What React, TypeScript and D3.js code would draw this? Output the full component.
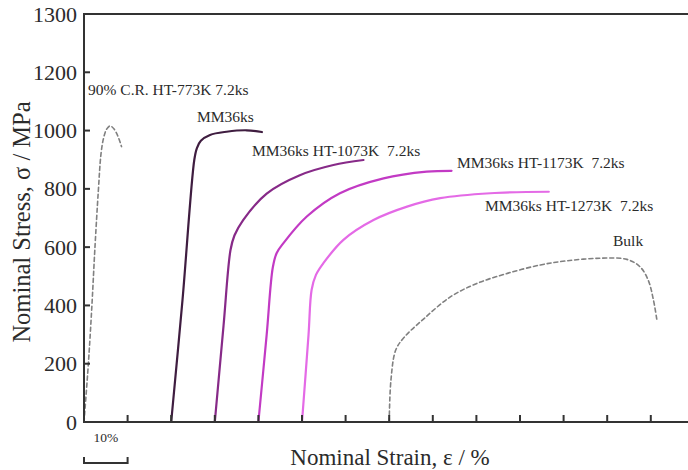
import React from "react";
import * as d3 from "d3";

const cr90Strain = [0, 1.0, 1.8, 2.5, 3.3, 3.9, 4.5, 5.2, 6.0, 6.9, 7.8, 8.6];
const cr90Stress = [0, 200, 396, 596, 796, 920, 975, 1005, 1016, 1005, 980, 945];

const mm36Strain = [20, 22.6, 25.3, 25.9, 26.8, 28.9, 32.7, 37.3, 40.8];
const mm36Stress = [0, 420, 900, 940, 965, 985, 996, 1001, 995];

const ht1073Strain = [30, 32.0, 33.6, 34.5, 36.5, 41.9, 49.5, 57.2, 64.1];
const ht1073Stress = [0, 330, 590, 640, 693, 784, 847, 882, 899];

const ht1173Strain = [40, 41.9, 43.3, 44.2, 45.7, 51.1, 58.7, 68.7, 78.6, 84.3];
const ht1173Stress = [0, 300, 530, 580, 613, 705, 785, 836, 859, 862];

const ht1273Strain = [50, 51.5, 52.2, 53.2, 54.9, 59.5, 66.4, 74.1, 81.7, 93.2, 106.6];
const ht1273Stress = [0, 300, 453, 505, 545, 625, 693, 739, 768, 785, 790];

const bulkStrain = [70, 70.4, 71.5, 73.4, 78, 84.1, 90.2, 97.1, 104.7, 110.7, 118.3, 124.5, 127.5, 129.4, 130.6, 131.4];
const bulkStress = [0, 144, 247, 290, 355, 430, 476, 510, 539, 553, 562, 558, 533, 487, 419, 350];

const seriesLabels = [
  "90% C.R. HT-773K 7.2ks",
  "MM36ks",
  "MM36ks HT-1073K  7.2ks",
  "MM36ks HT-1173K  7.2ks",
  "MM36ks HT-1273K  7.2ks",
  "Bulk",
];

const yTickValues = [0, 200, 400, 600, 800, 1000, 1200, 1400];
const yTickLabels = ["0", "200", "400", "600", "800", "1000", "1200", "1300"];
const xTickValues = [10, 20, 30, 40, 50, 60, 70, 80, 90, 100, 110, 120, 130];

const W = 688;
const H = 470;
const FONT = "'Liberation Serif', 'Times New Roman', serif";
const TXT = "#2b2b2b";

export default function App() {
  const x = d3.scaleLinear().domain([0, 140]).range([84, 84 + 140 * 4.36]);
  const y = d3.scaleLinear().domain([0, 1400]).range([422, 14]);
  const line = d3
    .line<[number, number]>()
    .x((d) => x(d[0]))
    .y((d) => y(d[1]))
    .curve(d3.curveCatmullRom.alpha(0.5));

  const zip = (a: number[], b: number[]) => a.map((v, i) => [v, b[i]] as [number, number]);

  const series = [
    { pts: zip(cr90Strain, cr90Stress), color: "#808080", dash: "4,3", w: 1.6 },
    { pts: zip(mm36Strain, mm36Stress), color: "#3f1d40", dash: null, w: 2.2 },
    { pts: zip(ht1073Strain, ht1073Stress), color: "#872a88", dash: null, w: 2.2 },
    { pts: zip(ht1173Strain, ht1173Stress), color: "#c23ac4", dash: null, w: 2.2 },
    { pts: zip(ht1273Strain, ht1273Stress), color: "#e46ae6", dash: null, w: 2.2 },
    { pts: zip(bulkStrain, bulkStress), color: "#808080", dash: "4,3", w: 1.6 },
  ];

  // label anchors (left x in px, baseline y in px)
  const labelPos: [number, number][] = [
    [88, 95],
    [197, 122],
    [252, 156],
    [457, 168],
    [485, 211],
    [613, 246],
  ];

  const x0 = x(0);
  const yBase = y(0);
  const xRight = W;

  return (
    <svg
      width={W}
      height={H}
      style={{ position: "absolute", left: 0, top: 0, background: "#fff" }}
      fontFamily={FONT}
    >
      <rect width={W} height={H} fill="#fff" />
      {series.map((s, i) => (
        <path
          key={i}
          d={line(s.pts) || ""}
          fill="none"
          stroke={s.color}
          strokeWidth={s.w}
          strokeDasharray={s.dash || undefined}
          strokeLinecap="round"
        />
      ))}
      {/* axes */}
      <line x1={x0} y1={y(1400)} x2={x0} y2={yBase} stroke="#333" strokeWidth={2} />
      <line x1={x0 - 1} y1={yBase} x2={xRight} y2={yBase} stroke="#333" strokeWidth={2} />
      <line x1={x0 - 1} y1={y(1400)} x2={xRight} y2={y(1400)} stroke="#333" strokeWidth={2} />
      {xTickValues.map((v) => (
        <line key={v} x1={x(v)} x2={x(v)} y1={yBase} y2={yBase - 7} stroke="#333" strokeWidth={2} />
      ))}
      {yTickValues.map((v, i) => (
        <g key={v}>
          <line x1={x0} x2={x0 + 6} y1={y(v)} y2={y(v)} stroke="#333" strokeWidth={2} />
          <text
            x={x0 - 7}
            y={y(v)}
            textAnchor="end"
            dominantBaseline="central"
            fontSize={22}
            fill={TXT}
          >
            {yTickLabels[i]}
          </text>
        </g>
      ))}
      {/* series labels */}
      {seriesLabels.map((t, i) => (
        <text
          key={t}
          x={labelPos[i][0]}
          y={labelPos[i][1]}
          fontSize={15.5}
          fill={TXT}
          style={{ whiteSpace: "pre" }}
        >
          {t}
        </text>
      ))}
      {/* axis titles */}
      <text x={390} y={465} textAnchor="middle" fontSize={23} fill={TXT}>
        Nominal Strain, ε / %
      </text>
      <text
        transform={`translate(30,222) rotate(-90)`}
        textAnchor="middle"
        fontSize={24.5}
        fill={TXT}
      >
        Nominal Stress, σ / MPa
      </text>
      {/* scale bar */}
      <text x={(x(0) + x(10)) / 2} y={442} textAnchor="middle" fontSize={13.5} fill={TXT}>
        10%
      </text>
      <path
        d={`M${x(0)},457 V463 H${x(10)} V457`}
        fill="none"
        stroke="#333"
        strokeWidth={2}
      />
    </svg>
  );
}
